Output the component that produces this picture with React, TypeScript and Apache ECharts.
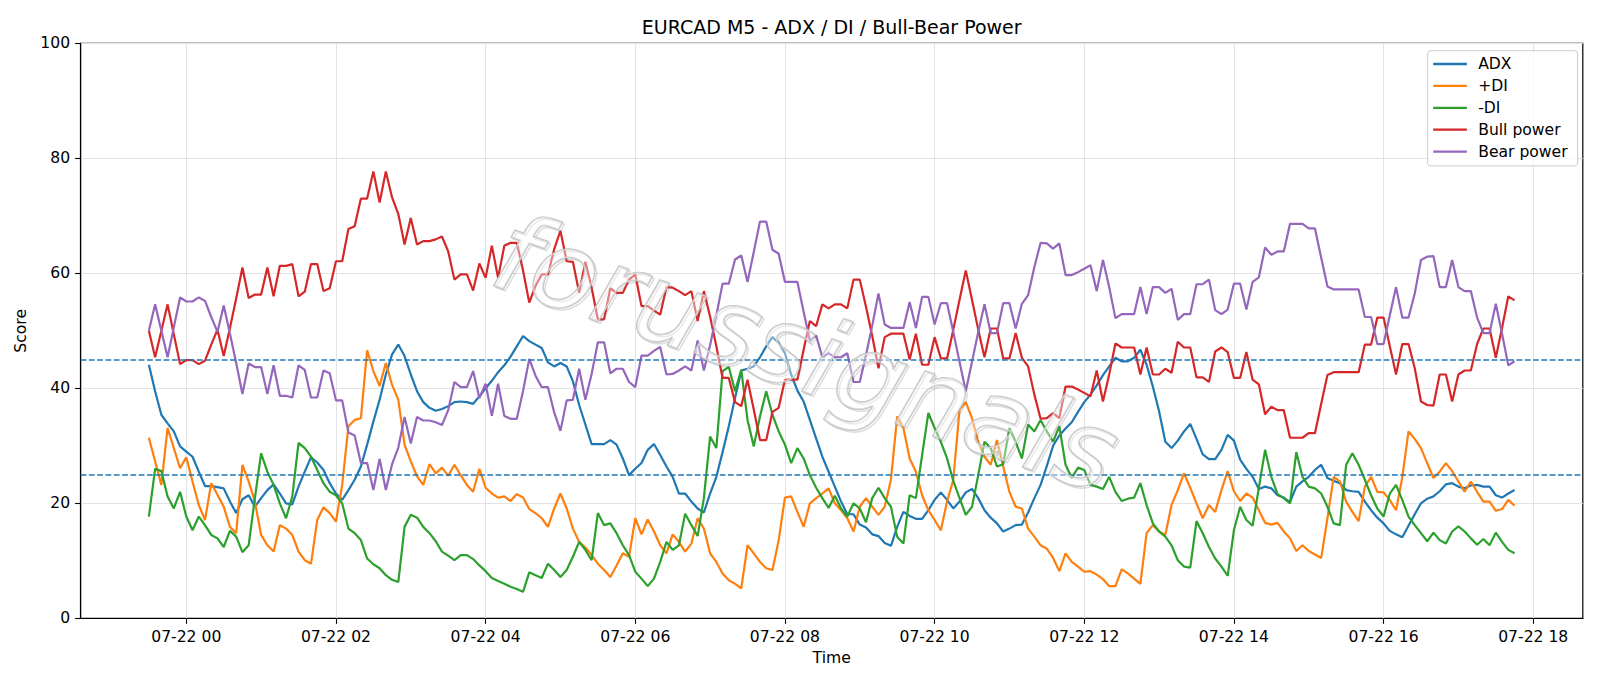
import React, { useEffect, useRef } from 'react';
import * as echarts from 'echarts';

// Time: first bar 07-21 23:30, M5 bars (hours relative to 07-22 00:00)
const startHour = -0.5;
const stepHours = 5 / 60;

const adx = [
  44.1, 39.5, 35.4, 33.9, 32.5, 29.9, 29.0, 28.1, 25.5, 23.0,
  23.0, 22.8, 22.6, 20.3, 18.3, 20.7, 21.4, 19.4, 20.9, 22.3,
  23.3, 21.7, 20.0, 19.8, 22.9, 25.5, 28.0, 27.1, 25.8, 23.5,
  21.7, 20.6, 22.3, 24.1, 26.4, 30.2, 34.2, 38.0, 42.4, 45.9,
  47.6, 45.6, 42.4, 39.5, 37.6, 36.6, 36.1, 36.4, 36.9, 37.6,
  37.7, 37.6, 37.3, 38.6, 40.0, 41.3, 42.8, 44.0, 45.5, 47.3,
  49.1, 48.2, 47.6, 47.0, 44.5, 43.8, 44.4, 43.8, 41.2, 37.1,
  33.7, 30.3, 30.3, 30.3, 31.0, 30.2, 27.8, 24.9, 26.0, 27.0,
  29.3, 30.3, 28.4, 26.4, 24.6, 21.7, 21.7, 20.3, 19.1, 18.4,
  21.7, 24.6, 28.9, 33.4, 38.3, 43.1, 43.4, 43.8, 45.4, 47.3,
  48.9, 47.9, 46.1, 42.4, 39.6, 37.7, 34.5, 31.3, 28.1, 25.5,
  22.9, 20.3, 18.1, 18.1, 16.3, 15.8, 14.6, 14.3, 13.1, 12.6,
  15.9, 18.5, 17.8, 17.3, 17.3, 18.8, 20.6, 21.9, 20.6, 19.1,
  20.3, 21.9, 22.5, 20.9, 18.8, 17.5, 16.5, 15.1, 15.6, 16.2,
  16.3, 18.4, 20.9, 23.2, 26.5, 30.0, 31.8, 33.0, 34.1, 35.9,
  37.6, 38.9, 40.5, 42.3, 43.8, 45.3, 44.7, 44.7, 45.3, 46.7,
  44.1, 40.3, 36.0, 30.7, 29.6, 30.9, 32.5, 33.8, 31.2, 28.5,
  27.7, 27.7, 29.3, 31.9, 30.9, 27.6, 26.0, 24.6, 22.5, 22.9,
  22.6, 21.4, 21.0, 20.2, 22.9, 23.8, 24.6, 25.8, 26.7, 24.4,
  23.9, 23.5, 22.3, 22.1, 22.0, 20.3, 18.8, 17.5, 16.5, 15.2,
  14.6, 14.1, 16.1, 18.1, 20.0, 20.8, 21.2, 22.1, 23.3, 23.5,
  22.9, 22.6, 23.1, 23.2, 22.9, 22.9, 21.4, 21.0, 21.7, 22.3,
];

const plusDI = [
  31.4, 27.3, 23.2, 33.1, 29.6, 26.1, 28.0, 23.8, 19.7, 17.1,
  23.5, 21.5, 19.4, 15.9, 14.8, 26.7, 23.8, 20.3, 14.5, 12.7,
  11.6, 16.2, 15.6, 14.5, 11.6, 10.1, 9.5, 17.1, 19.3, 18.3,
  16.8, 23.2, 33.4, 34.5, 34.8, 46.6, 43.0, 40.4, 44.4, 40.6,
  38.0, 30.2, 27.3, 24.7, 23.2, 26.8, 25.2, 26.2, 24.8, 26.7,
  24.9, 23.2, 22.0, 26.0, 22.7, 21.7, 21.0, 21.2, 20.4, 21.6,
  21.0, 19.0, 18.3, 17.4, 15.9, 19.1, 21.7, 19.1, 15.6, 13.3,
  12.3, 11.0, 9.5, 8.4, 7.2, 9.2, 11.3, 10.7, 17.4, 14.6,
  17.2, 15.1, 12.7, 11.3, 14.6, 13.3, 11.6, 13.0, 17.4, 15.6,
  11.3, 9.8, 7.8, 6.6, 6.0, 5.2, 12.7, 11.3, 9.8, 8.7,
  8.4, 13.6, 21.0, 21.2, 18.5, 15.9, 20.0, 20.9, 21.7, 22.6,
  20.0, 18.8, 17.4, 15.1, 19.4, 20.9, 19.4, 18.0, 19.4, 24.1,
  35.1, 33.1, 27.8, 25.5, 21.4, 18.8, 17.1, 15.3, 20.3, 24.1,
  36.3, 37.6, 34.8, 30.7, 28.1, 26.7, 31.0, 26.4, 22.0, 19.4,
  19.1, 15.6, 14.2, 12.7, 12.1, 10.5, 8.2, 11.3, 9.8, 9.0,
  8.1, 8.2, 7.6, 6.8, 5.6, 5.6, 8.5, 7.8, 6.9, 6.0,
  14.8, 16.2, 15.1, 14.5, 19.7, 22.3, 25.2, 22.7, 20.0, 17.4,
  19.7, 18.5, 22.3, 25.6, 22.1, 20.4, 21.7, 21.0, 18.8, 16.6,
  16.3, 16.6, 15.1, 13.9, 11.7, 12.7, 11.7, 11.1, 10.5, 17.4,
  24.6, 23.8, 20.3, 18.5, 16.9, 22.9, 24.6, 22.0, 21.9, 20.6,
  18.8, 24.5, 32.5, 31.2, 29.6, 27.0, 24.4, 25.5, 27.0, 25.6,
  23.8, 22.0, 23.8, 22.0, 20.3, 20.3, 18.7, 19.0, 20.6, 19.6,
];

const minusDI = [
  17.7, 26.0, 25.6, 21.2, 19.1, 22.0, 17.7, 15.3, 17.7, 16.2,
  14.5, 13.9, 12.4, 15.2, 14.2, 11.5, 12.7, 20.9, 28.7, 25.5,
  23.2, 20.0, 17.4, 21.2, 30.5, 29.6, 28.1, 25.8, 23.5, 22.0,
  21.4, 20.0, 15.6, 14.8, 13.6, 10.4, 9.4, 8.7, 7.5, 6.7,
  6.3, 15.9, 18.0, 17.5, 15.9, 14.8, 13.4, 11.6, 10.9, 10.1,
  11.0, 11.0, 10.3, 9.2, 8.2, 7.0, 6.5, 6.0, 5.5, 5.1,
  4.6, 8.0, 7.5, 7.0, 9.5, 8.4, 7.2, 8.4, 10.7, 13.3,
  11.9, 10.1, 18.3, 16.2, 16.5, 14.8, 12.7, 11.0, 8.1, 6.9,
  5.6, 6.9, 9.8, 13.3, 11.9, 12.7, 18.2, 16.2, 14.3, 20.9,
  31.6, 29.6, 43.0, 43.7, 39.5, 43.2, 34.5, 29.9, 35.1, 39.5,
  35.4, 32.5, 30.2, 27.0, 29.6, 27.8, 24.9, 22.7, 20.9, 19.2,
  21.3, 19.1, 17.7, 20.0, 19.1, 16.7, 20.9, 22.7, 20.9, 19.4,
  14.2, 13.0, 21.4, 20.9, 28.4, 35.7, 33.1, 30.7, 27.8, 23.9,
  20.9, 18.0, 19.4, 24.9, 30.7, 29.6, 26.4, 26.8, 33.1, 30.7,
  27.8, 33.7, 32.5, 34.5, 32.5, 30.7, 33.4, 26.7, 24.4, 26.2,
  25.8, 23.2, 22.9, 22.5, 24.6, 22.0, 20.4, 20.8, 21.0, 23.5,
  19.7, 16.5, 15.1, 14.2, 12.7, 10.1, 9.0, 8.8, 16.9, 14.8,
  12.4, 10.4, 9.0, 7.4, 15.3, 19.4, 17.1, 16.1, 22.7, 29.3,
  24.6, 21.6, 20.9, 20.0, 28.9, 24.6, 22.9, 22.6, 21.7, 19.4,
  16.5, 16.2, 26.7, 28.7, 26.7, 24.1, 21.4, 19.1, 17.7, 21.7,
  23.2, 20.6, 17.7, 16.2, 14.8, 13.4, 14.9, 13.6, 13.0, 15.1,
  16.0, 15.1, 13.9, 12.8, 13.8, 12.7, 14.9, 13.3, 11.9, 11.3,
];

const bullPower = [
  50.0, 45.4, 50.0, 54.6, 49.4, 44.2, 44.9, 44.9, 44.2, 44.8,
  47.6, 50.2, 45.6, 50.5, 55.6, 61.0, 55.7, 56.3, 56.3, 61.0,
  56.0, 61.3, 61.3, 61.6, 56.0, 56.8, 61.6, 61.6, 56.9, 57.4,
  62.1, 62.1, 67.7, 68.2, 73.0, 73.0, 77.7, 72.3, 77.7, 73.2,
  70.3, 65.0, 69.6, 65.0, 65.6, 65.6, 65.9, 66.4, 63.8, 58.9,
  59.8, 59.8, 57.0, 61.7, 59.2, 64.8, 59.2, 64.8, 65.3, 65.3,
  60.5, 54.9, 57.8, 59.8, 59.8, 64.2, 67.4, 62.1, 62.0, 56.6,
  62.0, 57.5, 52.0, 52.0, 57.4, 56.6, 56.6, 58.9, 59.8, 54.3,
  54.3, 53.5, 52.8, 57.6, 57.5, 56.9, 56.2, 56.9, 51.7, 56.9,
  52.5, 47.3, 41.8, 41.8, 37.6, 36.9, 41.5, 36.3, 31.0, 31.0,
  35.9, 36.6, 41.5, 41.5, 41.5, 46.7, 51.7, 50.8, 54.6, 53.9,
  54.6, 54.6, 53.9, 58.9, 58.9, 54.2, 49.1, 43.5, 48.9, 49.5,
  49.5, 49.5, 45.0, 49.5, 44.1, 44.1, 48.9, 45.2, 45.2, 50.2,
  55.4, 60.5, 55.4, 50.2, 45.4, 50.4, 50.4, 45.2, 45.2, 49.6,
  45.3, 43.8, 38.9, 34.7, 34.8, 35.7, 34.8, 40.3, 40.3, 39.8,
  39.2, 38.6, 43.1, 37.7, 42.4, 47.8, 47.1, 47.1, 47.1, 42.4,
  47.1, 42.4, 42.4, 43.4, 42.7, 48.1, 47.1, 47.1, 41.9, 41.9,
  41.1, 46.4, 47.1, 46.3, 41.8, 41.8, 46.3, 41.5, 40.7, 35.5,
  36.8, 36.2, 36.2, 31.4, 31.4, 31.4, 32.2, 32.2, 37.3, 42.3,
  42.8, 42.8, 42.8, 42.8, 42.8, 47.6, 47.6, 52.3, 52.3, 47.3,
  42.4, 47.7, 47.7, 43.5, 37.7, 37.1, 37.0, 42.4, 42.4, 37.7,
  42.4, 43.1, 43.1, 47.7, 50.4, 50.4, 45.3, 50.5, 56.0, 55.3,
];

const bearPower = [
  50.0, 54.6, 50.0, 45.4, 50.6, 55.8, 55.1, 55.1, 55.8, 55.2,
  52.4, 49.8, 54.4, 49.5, 44.4, 39.0, 44.3, 43.7, 43.7, 39.0,
  44.0, 38.7, 38.7, 38.4, 44.0, 43.2, 38.4, 38.4, 43.1, 42.6,
  37.9, 37.9, 32.3, 31.8, 27.0, 27.0, 22.3, 27.7, 22.3, 26.8,
  29.7, 35.0, 30.4, 35.0, 34.4, 34.4, 34.1, 33.6, 36.2, 41.1,
  40.2, 40.2, 43.0, 38.3, 40.8, 35.2, 40.8, 35.2, 34.7, 34.7,
  39.5, 45.1, 42.2, 40.2, 40.2, 35.8, 32.6, 37.9, 38.0, 43.4,
  38.0, 42.5, 48.0, 48.0, 42.6, 43.4, 43.4, 41.1, 40.2, 45.7,
  45.7, 46.5, 47.2, 42.4, 42.5, 43.1, 43.8, 43.1, 48.3, 43.1,
  47.5, 52.7, 58.2, 58.2, 62.4, 63.1, 58.5, 63.7, 69.0, 69.0,
  64.1, 63.4, 58.5, 58.5, 58.5, 53.3, 48.3, 49.2, 45.4, 46.1,
  45.4, 45.4, 46.1, 41.1, 41.1, 45.8, 50.9, 56.5, 51.1, 50.5,
  50.5, 50.5, 55.0, 50.5, 55.9, 55.9, 51.1, 54.8, 54.8, 49.8,
  44.6, 39.5, 44.6, 49.8, 54.6, 49.6, 49.6, 54.8, 54.8, 50.4,
  54.7, 56.2, 61.1, 65.3, 65.2, 64.3, 65.2, 59.7, 59.7, 60.2,
  60.8, 61.4, 56.9, 62.3, 57.6, 52.2, 52.9, 52.9, 52.9, 57.6,
  52.9, 57.6, 57.6, 56.6, 57.3, 51.9, 52.9, 52.9, 58.1, 58.1,
  58.9, 53.6, 52.9, 53.7, 58.2, 58.2, 53.7, 58.5, 59.3, 64.5,
  63.2, 63.8, 63.8, 68.6, 68.6, 68.6, 67.8, 67.8, 62.7, 57.7,
  57.2, 57.2, 57.2, 57.2, 57.2, 52.4, 52.4, 47.7, 47.7, 52.7,
  57.6, 52.3, 52.3, 56.5, 62.3, 62.9, 63.0, 57.6, 57.6, 62.3,
  57.6, 56.9, 56.9, 52.3, 49.6, 49.6, 54.7, 49.5, 44.0, 44.7,
];

const xTickHours = [0, 2, 4, 6, 8, 10, 12, 14, 16, 18];
const xTickLabels = [
  '07-22 00', '07-22 02', '07-22 04', '07-22 06', '07-22 08',
  '07-22 10', '07-22 12', '07-22 14', '07-22 16', '07-22 18',
];
const thresholds = [45, 25];

const seriesNames = ['ADX', '+DI', '-DI', 'Bull power', 'Bear power'];
const seriesColors = ['#1f77b4', '#ff7f0e', '#2ca02c', '#d62728', '#9467bd'];

export default function App() {
  const ref = useRef<HTMLDivElement>(null);

  useEffect(() => {
    if (!ref.current) return;
    const chart = echarts.init(ref.current, null, { renderer: 'svg' });
    const font = 'DejaVu Sans';
    const fs = 15.6;
    const toPairs = (arr: number[]) => arr.map((v, i) => [startHour + i * stepHours, v]);
    const seriesData = [adx, plusDI, minusDI, bullPower, bearPower];

    const series: any[] = seriesData.map((arr, k) => ({
      type: 'line',
      name: seriesNames[k],
      data: toPairs(arr),
      symbol: 'none',
      showSymbol: false,
      z: 2,
      lineStyle: { color: seriesColors[k], width: 2.2 },
      itemStyle: { color: seriesColors[k] },
      emphasis: { disabled: true },
    }));

    // vertical grid lines at the x tick positions (behind the data)
    series[0].markLine = {
      silent: true,
      z: 1,
      symbol: ['none', 'none'],
      label: { show: false },
      emphasis: { disabled: true },
      lineStyle: { color: '#e3e3e3', width: 1, type: 'solid' },
      data: xTickHours.map((h) => ({ xAxis: h })),
    };
    // horizontal dashed threshold lines
    series[4].markLine = {
      silent: true,
      z: 5,
      symbol: ['none', 'none'],
      label: { show: false },
      emphasis: { disabled: true },
      lineStyle: { color: '#1f77b4', width: 1.5, type: [5.8, 2.5] },
      data: thresholds.map((t) => ({ yAxis: t })),
    };

    const wmStyle = {
      text: 'forussignals',
      fontSize: 108,
      fontStyle: 'italic',
      fontFamily: font,
      align: 'center',
      verticalAlign: 'middle',
    };

    const option: any = {
      animation: false,
      backgroundColor: '#ffffff',
      textStyle: { fontFamily: font },
      title: {
        text: 'EURCAD M5 - ADX / DI / Bull-Bear Power',
        left: 831.7,
        top: 15.5,
        textAlign: 'center',
        padding: 0,
        textStyle: { fontSize: 19, fontWeight: 'normal', color: '#000', fontFamily: font, lineHeight: 22 },
      },
      grid: {
        left: 80.6,
        right: 17.2,
        top: 43.3,
        bottom: 67.7,
        show: true,
        borderColor: '#000',
        borderWidth: 1.2,
        backgroundColor: 'transparent',
        containLabel: false,
      },
      legend: {
        data: seriesNames,
        orient: 'vertical',
        right: 22.4,
        top: 50.7,
        padding: [5.3, 10, 6.3, 5.6],
        itemWidth: 33.7,
        itemHeight: 16,
        itemGap: 5.9,
        icon: 'path://M0,0H34V2.3H0Z',
        itemStyle: { borderWidth: 0 },
        textStyle: { fontSize: fs, lineHeight: 16, color: '#000', fontFamily: font, padding: [0, 0, 0, 6.3] },
        backgroundColor: 'rgba(255,255,255,0.8)',
        borderColor: '#cccccc',
        borderWidth: 1,
        borderRadius: 3,
        selectedMode: false,
      },
      xAxis: {
        type: 'value',
        min: -1.4125,
        max: 18.6625,
        name: 'Time',
        nameLocation: 'middle',
        nameGap: 31,
        nameTextStyle: { fontSize: fs, color: '#000', fontFamily: font },
        axisLine: { show: true, onZero: false, lineStyle: { color: '#000', width: 1.2 } },
        axisTick: { show: true, length: 5.5, customValues: xTickHours, lineStyle: { color: '#000', width: 1.1 } },
        axisLabel: {
          customValues: xTickHours,
          margin: 11,
          color: '#000',
          fontSize: fs,
          fontFamily: font,
          formatter: (v: number) => {
            const idx = xTickHours.findIndex((h) => Math.abs(h - v) < 1e-6);
            return idx >= 0 ? xTickLabels[idx] : '';
          },
        },
        splitLine: { show: false },
      },
      yAxis: {
        type: 'value',
        min: 0,
        max: 100,
        interval: 20,
        name: 'Score',
        nameLocation: 'middle',
        nameGap: 47,
        nameTextStyle: { fontSize: fs, color: '#000', fontFamily: font },
        axisLine: { show: true, onZero: false, lineStyle: { color: '#000', width: 1.2 } },
        axisTick: { show: true, length: 5.5, lineStyle: { color: '#000', width: 1.1 } },
        axisLabel: { margin: 10.5, color: '#000', fontSize: fs, fontFamily: font },
        splitLine: { show: true, lineStyle: { color: '#e3e3e3', width: 1 } },
      },
      graphic: [
        {
          type: 'text',
          x: 808,
          y: 355,
          rotation: -0.33,
          z: 49,
          silent: true,
          style: {
            ...wmStyle,
            fill: 'rgba(255,255,255,0)',
            stroke: 'rgba(120,120,120,0.25)',
            lineWidth: 1.5,
          },
        },
        {
          type: 'text',
          x: 806,
          y: 353,
          rotation: -0.33,
          z: 50,
          silent: true,
          style: {
            ...wmStyle,
            fill: 'rgba(255,255,255,0.4)',
            stroke: 'rgba(190,190,190,0.9)',
            lineWidth: 1.8,
          },
        },
      ],
      series,
    };

    chart.setOption(option);
    return () => {
      chart.dispose();
    };
  }, []);

  return (
    <div
      ref={ref}
      style={{ position: 'absolute', left: 0, top: 0, width: 1600, height: 686, background: '#fff' }}
    />
  );
}
